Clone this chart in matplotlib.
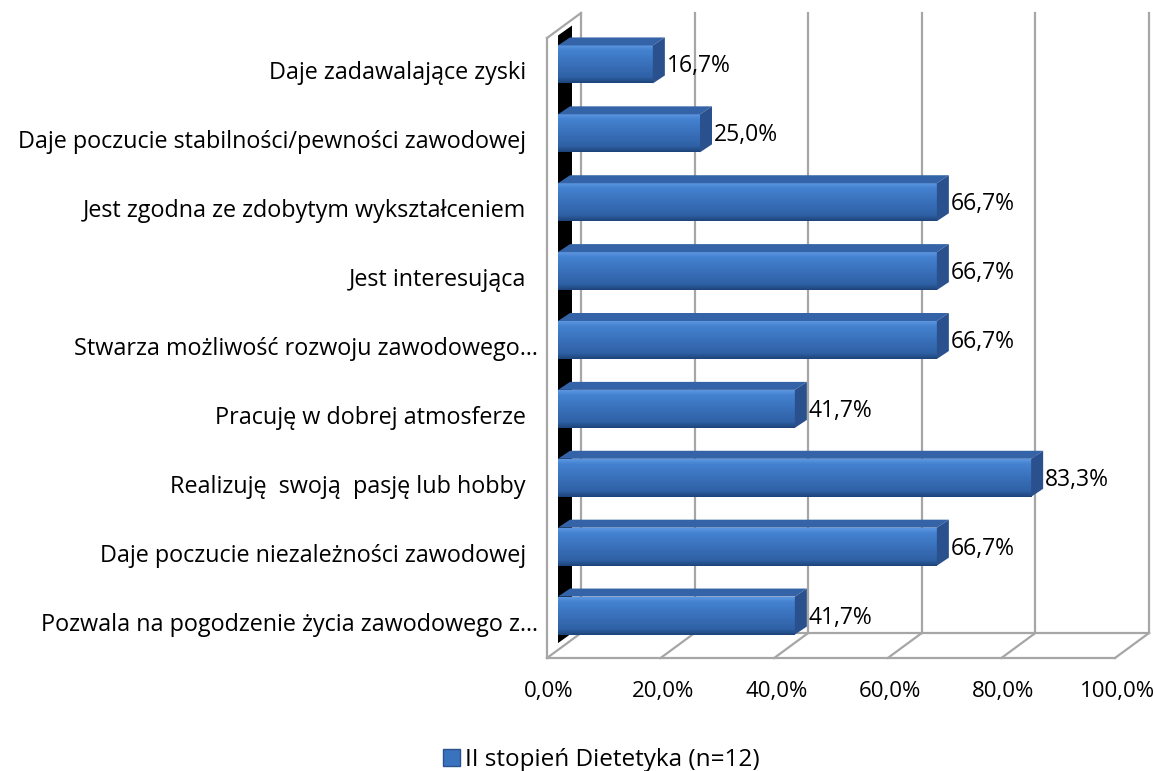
import matplotlib.pyplot as plt
import numpy as np
from matplotlib.colors import LinearSegmentedColormap
from matplotlib.patches import Polygon, Patch

# dane (od góry do dołu, jak na wykresie)
categories = [
    'Daje zadawalające zyski  ',
    'Daje poczucie stabilności/pewności zawodowej  ',
    'Jest zgodna ze zdobytym wykształceniem  ',
    'Jest interesująca  ',
    'Stwarza możliwość rozwoju zawodowego…',
    'Pracuję w dobrej atmosferze  ',
    'Realizuję  swoją  pasję lub hobby  ',
    'Daje poczucie niezależności zawodowej  ',
    'Pozwala na pogodzenie życia zawodowego z…',
]
values = [16.7, 25.0, 66.7, 66.7, 66.7, 41.7, 83.3, 66.7, 41.7]
value_labels = ['16,7%', '25,0%', '66,7%', '66,7%', '66,7%', '41,7%', '83,3%', '66,7%', '41,7%']
x_ticks = [0, 20, 40, 60, 80, 100]
x_tick_labels = ['0,0%', '20,0%', '40,0%', '60,0%', '80,0%', '100,0%']
series_name = 'II stopień Dietetyka (n=12)'

plt.rcParams['font.family'] = ['Open Sans', 'DejaVu Sans']
FS_CAT = 16.8
FS_VAL = 16.5
FS_TICK = 16
FS_LEG = 17.5

W, H = 1157, 771
fig = plt.figure(figsize=(W / 100, H / 100), dpi=100)
# płaszczyzna przednich ścian słupków: 0% -> 558 px, 100% -> 1126 px
ax = fig.add_axes([558 / W, (H - 650) / H, 568 / W, 620 / H])
n = len(categories)
y0, y1 = -0.5, n - 0.5
ax.set_xlim(0, 100)
ax.set_ylim(y0, y1)
ax.axis('off')

# przesunięcia w pikselach -> jednostki danych
sx = 100 / 568
sy = n / 620


def off(x, y, d):
    return (x + d[0] * sx, y + d[1] * sy)


FRONT = (-11, -8)   # przednia krawędź podłogi
BACK = (23, 17)     # tylna ściana
DEPTH = (12, 8)     # głębokość słupka

grid_kw = dict(color='#A6A6A6', lw=1.6, clip_on=False, zorder=1)


def seg(p, q):
    ax.plot([p[0], q[0]], [p[1], q[1]], **grid_kw)


for t in x_ticks:
    seg(off(t, y0, BACK), off(t, y1, BACK))
    seg(off(t, y0, FRONT), off(t, y0, BACK))
seg(off(0, y0, FRONT), off(100, y0, FRONT))
seg(off(0, y0, BACK), off(100, y0, BACK))
seg(off(0, y0, FRONT), off(0, y1, FRONT))
seg(off(0, y1, FRONT), off(0, y1, BACK))

# czarny pas na lewej ścianie
o1, o2 = (0, 0), (14, 10)
ax.add_patch(Polygon([off(0, y0 + 0.1, o1), off(0, y0 + 0.1, o2),
                      off(0, y1 - 0.08, o2), off(0, y1 - 0.08, o1)],
                     closed=True, facecolor='black', edgecolor='none',
                     clip_on=False, zorder=2))

# słupki
bar_h = 38 * sy
grad = LinearSegmentedColormap.from_list(
    'bar', [(0, '#5C96DF'), (0.12, '#4482D0'), (0.5, '#3970BA'),
            (0.85, '#2F61A5'), (1.0, '#1E447A')])
g = grad(np.linspace(0, 1, 64))[:, None, :3]

for i, (v, lab) in enumerate(zip(values, value_labels)):
    y = n - 1 - i
    b, t = y - bar_h / 2, y + bar_h / 2
    ax.imshow(g, extent=(0, v, b, t), aspect='auto', interpolation='bilinear',
              zorder=3, clip_on=False)
    ax.add_patch(Polygon([(0, t), (v, t), off(v, t, DEPTH), off(0, t, DEPTH)],
                         closed=True, facecolor='#3464A7', edgecolor='none',
                         clip_on=False, zorder=3))
    ax.add_patch(Polygon([(v, b), (v, t), off(v, t, DEPTH), off(v, b, DEPTH)],
                         closed=True, facecolor='#2A508D', edgecolor='none',
                         clip_on=False, zorder=3))
    ax.text(*off(v, y, (14, -2)), lab, ha='left', va='center', fontsize=FS_VAL,
            zorder=4)
    ax.text(*off(0, y, (-20, -9)), categories[i], ha='right', va='center',
            fontsize=FS_CAT, zorder=4)

ax.set_xlim(0, 100)
ax.set_ylim(y0, y1)

for t, lab in zip(x_ticks, x_tick_labels):
    ax.text(*off(t, y0, (FRONT[0] + 2, FRONT[1] - 34)), lab, ha='center',
            va='center', fontsize=FS_TICK)

ax.legend(handles=[Patch(facecolor='#3A73BD', edgecolor='#2B5290', label=series_name)],
          loc='center', bbox_to_anchor=(601 / W, 1 - 760 / H),
          bbox_transform=fig.transFigure, frameon=False, fontsize=FS_LEG,
          handlelength=0.7, handleheight=0.7, handletextpad=0.2)

fig.savefig('out.png', dpi=100)
